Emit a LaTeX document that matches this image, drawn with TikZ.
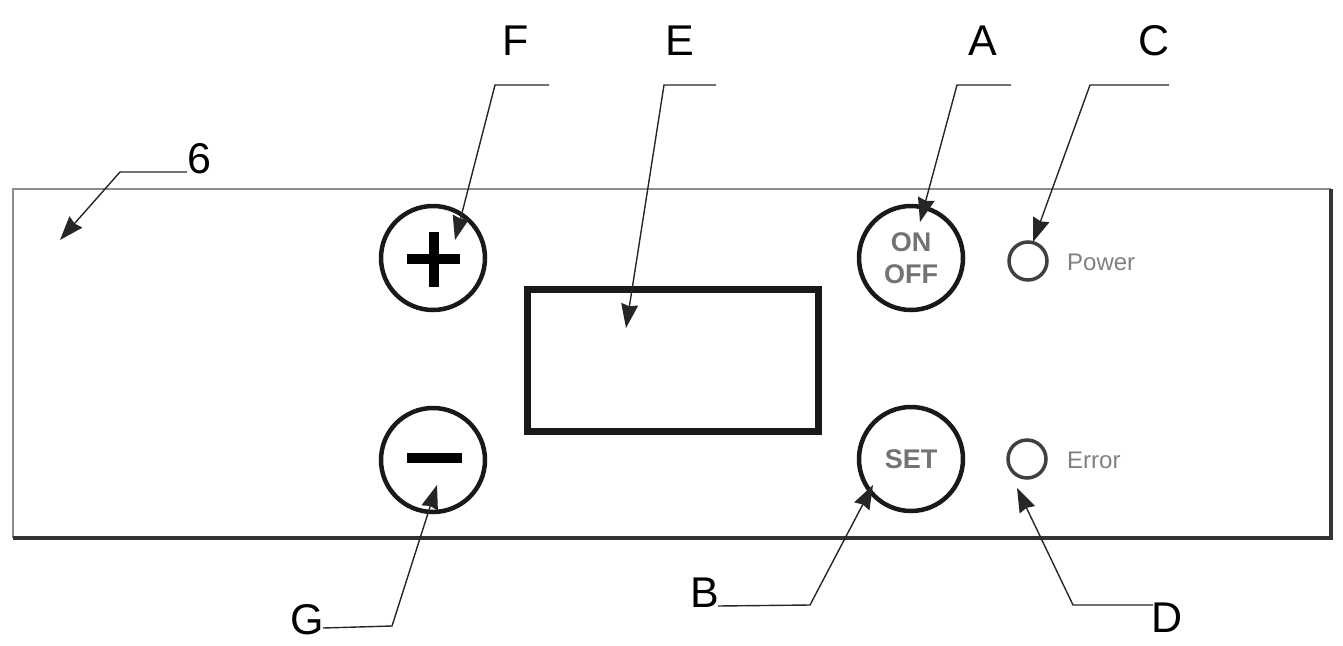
\documentclass[tikz,border=0pt]{standalone}
\usepackage{fontspec}
\setmainfont{Liberation Sans}
\usetikzlibrary{arrows.meta}
\begin{document}
\begin{tikzpicture}[x=1pt,y=-1pt,
  lbl/.style={font=\fontsize{43}{43}\selectfont, inner sep=0pt, anchor=base},
  leader/.style={draw=black!85, line width=1.4pt, -{Stealth[length=24pt,width=17pt,inset=2pt]}},
  btn/.style={circle, draw=black!90, line width=4.5pt, minimum size=104pt, inner sep=0pt},
  led/.style={circle, draw=black!75, line width=3.5pt, minimum size=38pt, inner sep=0pt},
  btntext/.style={font=\bfseries\fontsize{27}{32}\selectfont, text=black!55, align=center},
  ledtext/.style={font=\fontsize{24}{24}\selectfont, text=black!50, anchor=west, inner sep=0pt},
  bar/.style={line width=10pt, black}
]
\useasboundingbox (0,0) rectangle (1343,645);
% panel
\draw[black!45, line width=2pt] (13,538) -- (13,189) -- (1331,189);
\draw[black!80, line width=4pt] (1331,189) -- (1331,538) -- (13,538);
% display
\node[draw=black!90, line width=7pt, minimum width=291pt, minimum height=142pt, inner sep=0pt] (disp) at (672.5,360) {};
% buttons
\node[btn] (plus) at (433,258) {};
\draw[bar] (407,259) -- (460,259);
\draw[bar] (433.5,232) -- (433.5,287);
\node[btn] (minus) at (433,460) {};
\draw[bar] (407,458) -- (462,458);
\node[btn, btntext] (onoff) at (911,258) {ON\\OFF};
\node[btn, btntext] (set) at (911,459) {SET};
% leds
\node[led] (ledp) at (1028,261) {};
\node[ledtext] (tp) at (1067,262) {Power};
\node[led] (lede) at (1027,459) {};
\node[ledtext] (te) at (1067,460) {Error};
% labels
\node[lbl] (l6) at (199,173) {6};
\node[lbl] (lF) at (516,55) {F};
\node[lbl] (lE) at (680,55) {E};
\node[lbl] (lA) at (983,55) {A};
\node[lbl] (lC) at (1154,55) {C};
\node[lbl] (lG) at (307,634) {G};
\node[lbl] (lB) at (705,607) {B};
\node[lbl] (lD) at (1167,632) {D};
% leader coordinates
\coordinate (s6) at (187,172); \coordinate (b6) at (120,172); \coordinate (t6) at (60,240);
\coordinate (sF) at (549,85); \coordinate (bF) at (495,85); \coordinate (tF) at (455,240);
\coordinate (sE) at (716,85); \coordinate (bE) at (664,85); \coordinate (tE) at (626,328);
\coordinate (sA) at (1011,85); \coordinate (bA) at (957,85); \coordinate (tA) at (920,222);
\coordinate (sC) at (1169,85); \coordinate (bC) at (1090,85); \coordinate (tC) at (1033,242);
\coordinate (sG) at (323,628); \coordinate (bG) at (392,626); \coordinate (tG) at (437,485);
\coordinate (sB) at (718,606); \coordinate (bB) at (810,605); \coordinate (tB) at (873,485);
\coordinate (sD) at (1153,605); \coordinate (bD) at (1073,605); \coordinate (tD) at (1017,488);
% leaders
\draw[leader] (s6) -- (b6) -- (t6);
\draw[leader] (sF) -- (bF) -- (tF);
\draw[leader] (sE) -- (bE) -- (tE);
\draw[leader] (sA) -- (bA) -- (tA);
\draw[leader] (sC) -- (bC) -- (tC);
\draw[leader] (sG) -- (bG) -- (tG);
\draw[leader] (sB) -- (bB) -- (tB);
\draw[leader] (sD) -- (bD) -- (tD);
\end{tikzpicture}
\end{document}
